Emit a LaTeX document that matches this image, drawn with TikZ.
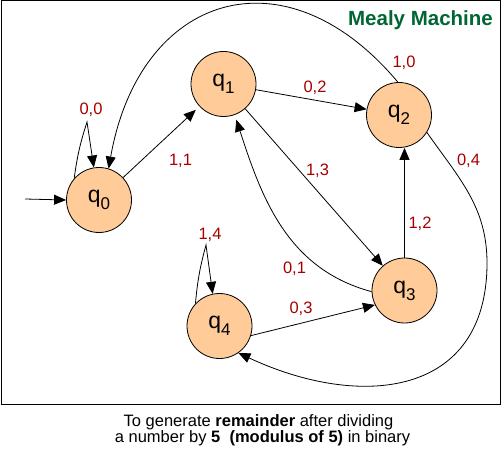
\documentclass[tikz,border=0pt]{standalone}
\usepackage{fontspec}
\setmainfont{Liberation Sans}
\usetikzlibrary{arrows.meta,positioning}
\definecolor{statefill}{RGB}{255,204,153}
\definecolor{outred}{RGB}{165,0,0}
\definecolor{titlegreen}{RGB}{0,102,51}
\newcommand{\qstate}[1]{{\fontsize{23}{23}\selectfont q}\raisebox{-7pt}{\fontsize{17}{17}\selectfont #1}}
\tikzset{
  statenode/.style={draw, circle, fill=statefill, line width=0.8pt, minimum size=65pt, inner sep=0pt},
  arrow/.style={-{Triangle[length=12pt,width=10pt]}, line width=0.8pt},
  outlbl/.style={text=outred, font=\fontsize{16.5}{16.5}\selectfont, anchor=base, inner sep=0pt},
  titletext/.style={text=titlegreen, font=\fontsize{20.5}{20.5}\selectfont\bfseries, anchor=base, inner sep=0pt},
  captext/.style={font=\fontsize{16.5}{16.5}\selectfont, anchor=base, inner sep=0pt}
}

\begin{document}
\begin{tikzpicture}[x=1pt, y=1pt]
  \useasboundingbox (0,0) rectangle (502,-449);
  \draw[line width=1pt] (1,-1) rectangle (500,-404);

  % states
  \node[statenode] (q0) at (99,-200) {\qstate{0}};
  \node[statenode] (q1) at (223.5,-84) {\qstate{1}};
  \node[statenode] (q2) at (399,-115) {\qstate{2}};
  \node[statenode] (q3) at (404.5,-290.5) {\qstate{3}};
  \node[statenode] (q4) at (219.5,-326) {\qstate{4}};

  \coordinate (start) at (25,-199);
  \coordinate (loop0) at (87,-122);
  \coordinate (loop4) at (206,-245);
  \coordinate (bulge) at (487,-263);

  % transitions
  \draw[arrow] (start) -- (q0.west);
  \draw[arrow] (q0.139) to[bend left=5] (loop0) -- (q0.99);
  \draw[arrow] (q4.137) to[bend left=5] (loop4) -- (q4.102);
  \draw[arrow, shorten >=5pt] (q0) -- (q1);
  \foreach \a/\b in {q1/q2,q1/q3}
    \draw[arrow] (\a) -- (\b);
  \draw[arrow] (q3.north) -- (q3.north |- q2.south);
  \draw[arrow] (q4.-17) -- (q3.206);
  \draw[arrow, shorten >=5pt] (q3.182) to[out=165, in=-72] (q1.-70);
  \draw[arrow] (q2.92) to[out=130, in=80, looseness=1.5] (q0.73);
  \draw[arrow] (q2.-32) to[out=-55, in=90] (bulge) to[out=-90, in=-25, looseness=1.3] (q4.-55);

  % outputs
  \node[outlbl] (o00) at (91,-114.5) {0,0};
  \node[outlbl] (o11) at (180.5,-165) {1,1};
  \node[outlbl] (o02) at (315,-93) {0,2};
  \node[outlbl] (o13) at (317.5,-175) {1,3};
  \node[outlbl] (o10) at (404,-68) {1,0};
  \node[outlbl] (o04) at (468.5,-165) {0,4};
  \node[outlbl] (o12) at (420,-228) {1,2};
  \node[outlbl] (o01) at (294.5,-273) {0,1};
  \node[outlbl] (o03) at (301,-313) {0,3};
  \node[outlbl] (o14) at (210,-239.5) {1,4};

  \node[titletext] (title) at (420.5,-26) {Mealy Machine};
  \node[captext] (cap1) at (258.5,-426.5) {To generate \textbf{remainder} after dividing};
  \node[captext] (cap2) at (262.5,-442.5) {a number by \textbf{5\ \ (modulus of 5)} in binary};
\end{tikzpicture}
\end{document}
